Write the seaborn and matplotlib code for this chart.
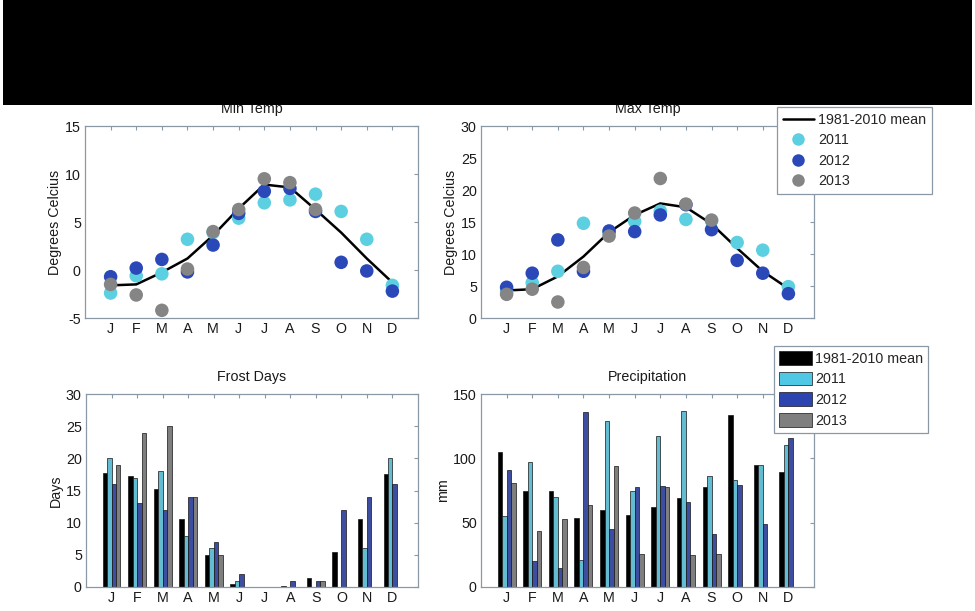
import numpy as np
import pandas as pd
import matplotlib
matplotlib.use("Agg")
import matplotlib.pyplot as plt
from matplotlib.lines import Line2D
from matplotlib.patches import Patch, Rectangle
import seaborn as sns

nan = np.nan

# ---- data -------------------------------------------------------------
months = ["J", "F", "M", "A", "M", "J", "J", "A", "S", "O", "N", "D"]
month_num = list(range(1, 13))
series = ["1981-2010 mean", "2011", "2012", "2013"]

tmin_mean = [-1.6, -1.5, -0.25, 1.2, 3.6, 6.4, 8.9, 8.6, 6.3, 3.9, 1.2, -1.3]
tmin_2011 = [-2.4, -0.6, -0.4, 3.2, 3.9, 5.4, 7.0, 7.3, 7.9, 6.1, 3.2, -1.6]
tmin_2012 = [-0.7, 0.2, 1.1, -0.2, 2.6, 5.9, 8.2, 8.5, 6.1, 0.8, -0.1, -2.2]
tmin_2013 = [-1.5, -2.6, -4.2, 0.1, 4.0, 6.3, 9.5, 9.1, 6.3, nan, nan, nan]

tmax_mean = [4.3, 4.5, 6.5, 9.6, 13.4, 16.1, 17.9, 17.3, 14.7, 10.9, 7.3, 4.6]
tmax_2011 = [4.1, 5.5, 7.3, 14.8, 13.3, 15.1, 16.7, 15.4, 15.2, 11.8, 10.6, 4.9]
tmax_2012 = [4.8, 7.0, 12.2, 7.3, 13.6, 13.5, 16.1, 17.7, 13.8, 9.0, 7.0, 3.8]
tmax_2013 = [3.7, 4.5, 2.5, 7.9, 12.8, 16.4, 21.8, 17.8, 15.3, nan, nan, nan]

frost_mean = [17.7, 17.3, 15.3, 10.5, 5.0, 0.5, 0.0, 0.15, 1.4, 5.5, 10.6, 17.5]
frost_2011 = [20, 17, 18, 8, 6, 1, 0, 0, 0, 0, 6, 20]
frost_2012 = [16, 13, 12, 14, 7, 2, 0, 1, 1, 12, 14, 16]
frost_2013 = [19, 24, 25, 14, 5, 0, 0, 0, 1, nan, nan, nan]

precip_mean = [105, 75, 74.5, 54, 59.5, 56, 62.5, 69.5, 77.5, 133.5, 95, 89]
precip_2011 = [55.5, 97, 70, 21, 129, 75, 117, 137, 86, 83, 94.5, 110]
precip_2012 = [91, 20, 15, 136, 45, 78, 78.5, 66, 41.5, 79, 49, 116]
precip_2013 = [81, 43.5, 52.5, 64, 94, 26, 78, 24.5, 25.5, nan, nan, nan]

# ---- style ------------------------------------------------------------
sns.set_style("white")
plt.rcParams["font.family"] = ["Liberation Sans", "DejaVu Sans"]
plt.rcParams["font.size"] = 10

FS = 10.3
SPINE = "#8a98a6"
TXT = "#1a1a1a"
dot_colors = {"2011": "#5ccfe0", "2012": "#2b48b8", "2013": "#858585"}
bar_colors = {"1981-2010 mean": "#000000", "2011": "#4fc8e6",
              "2012": "#2c44b0", "2013": "#7f7f7f"}

W, H = 975, 611
fig = plt.figure(figsize=(W / 100, H / 100), dpi=100)
fig.patch.set_facecolor("white")


def px_axes(left, top, right, bottom):
    return fig.add_axes([left / W, 1 - bottom / H, (right - left) / W, (bottom - top) / H])


def style_axes(ax, title, ylabel, ylim, yticks, xlim, xticks):
    ax.set_xlim(*xlim)
    ax.set_ylim(*ylim)
    ax.set_yticks(yticks)
    ax.set_yticklabels([str(t) for t in yticks])
    ax.set_xticks(xticks)
    ax.set_xticklabels(months)
    ax.set_title(title, fontsize=FS, color=TXT, pad=9)
    ax.set_ylabel(ylabel, fontsize=FS, color=TXT, labelpad=2)
    ax.set_xlabel("")
    for sp in ax.spines.values():
        sp.set_visible(True)
        sp.set_color(SPINE)
        sp.set_linewidth(0.9)
    ax.tick_params(direction="in", length=3, width=0.8, color=SPINE,
                   top=True, right=True, labelsize=FS, labelcolor=TXT, pad=3)
    ax.set_facecolor("white")


def temp_panel(ax, mean, y11, y12, y13, title, ylim, yticks):
    sns.lineplot(x=month_num, y=mean, color="black", lw=1.8, ax=ax, zorder=2)
    df = pd.DataFrame({
        "month": month_num * 3,
        "value": y11 + y12 + y13,
        "year": ["2011"] * 12 + ["2012"] * 12 + ["2013"] * 12,
    }).dropna()
    sns.scatterplot(data=df, x="month", y="value", hue="year", palette=dot_colors,
                    s=95, linewidth=0, legend=False, ax=ax, zorder=3)
    style_axes(ax, title, "Degrees Celcius", ylim, yticks, (0, 13), month_num)


def bar_panel(ax, mean, y11, y12, y13, title, ylabel, ylim, yticks):
    df = pd.DataFrame({
        "month": month_num * 4,
        "value": mean + y11 + y12 + y13,
        "series": sum([[s] * 12 for s in series], []),
    }).dropna()
    sns.barplot(data=df, x="month", y="value", hue="series", hue_order=series,
                order=month_num, palette=bar_colors, width=0.7, errorbar=None,
                edgecolor="#151515", linewidth=0.5, legend=False, ax=ax)
    style_axes(ax, title, ylabel, ylim, yticks, (-1, 12), list(range(12)))


ax_tmin = px_axes(85, 126, 418, 318)
temp_panel(ax_tmin, tmin_mean, tmin_2011, tmin_2012, tmin_2013, "Min Temp",
           (-5, 15), [-5, 0, 5, 10, 15])

ax_tmax = px_axes(481, 126, 814, 318)
temp_panel(ax_tmax, tmax_mean, tmax_2011, tmax_2012, tmax_2013, "Max Temp",
           (0, 30), [0, 5, 10, 15, 20, 25, 30])

ax_frost = px_axes(86, 394, 418, 587)
bar_panel(ax_frost, frost_mean, frost_2011, frost_2012, frost_2013, "Frost Days",
          "Days", (0, 30), [0, 5, 10, 15, 20, 25, 30])

ax_precip = px_axes(481, 394, 814, 587)
bar_panel(ax_precip, precip_mean, precip_2011, precip_2012, precip_2013, "Precipitation",
          "mm", (0, 150), [0, 50, 100, 150])

# ---- legends ----------------------------------------------------------
line_handles = [Line2D([0], [0], color="black", lw=1.8)] + [
    Line2D([0], [0], marker="o", ls="none", markersize=9, markeredgewidth=0,
           markerfacecolor=dot_colors[y]) for y in series[1:]]
leg1 = fig.legend(line_handles, series, loc="upper left",
                  bbox_to_anchor=(777 / W, 1 - 107 / H), bbox_transform=fig.transFigure,
                  frameon=True, fancybox=False, framealpha=1, edgecolor=SPINE,
                  fontsize=FS, handlelength=2.2, handletextpad=0.25,
                  labelspacing=0.45, borderpad=0.4, borderaxespad=0)
leg1.get_frame().set_linewidth(0.9)
leg1._legend_box.align = "left"

patch_handles = [Patch(facecolor=bar_colors[s], edgecolor="#151515", lw=0.5) for s in series]
leg2 = fig.legend(patch_handles, series, loc="upper left",
                  bbox_to_anchor=(774 / W, 1 - 346 / H), bbox_transform=fig.transFigure,
                  frameon=True, fancybox=False, framealpha=1, edgecolor=SPINE,
                  fontsize=FS, handlelength=2.3, handleheight=1.1, handletextpad=0.2,
                  labelspacing=0.42, borderpad=0.35, borderaxespad=0)
leg2.get_frame().set_linewidth(0.9)

# black header band across the top
fig.add_artist(Rectangle((3 / W, 1 - 105 / H), 969 / W, 105 / H,
                         transform=fig.transFigure, facecolor="black",
                         edgecolor="none", zorder=20))

fig.savefig("out.png", dpi=100, facecolor="white")
